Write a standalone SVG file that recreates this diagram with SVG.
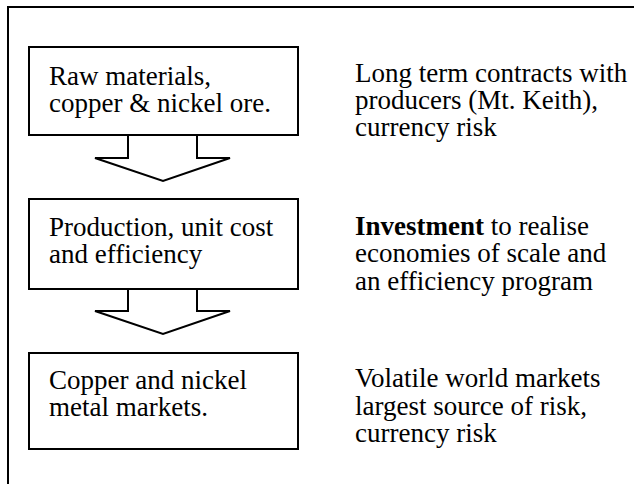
<svg xmlns="http://www.w3.org/2000/svg" width="634" height="484" viewBox="0 0 634 484">
<style>
.frame{fill:#fff;stroke:#000;stroke-width:2}
.box{fill:#fff;stroke:#000;stroke-width:2}
.arrow{fill:#fff;stroke:#000;stroke-width:2;stroke-linejoin:miter}
text{font-size:27px;fill:#000}
.b{font-weight:bold}
</style>
<rect class="frame" x="8" y="7" width="640" height="490"/>
<g id="connectors">
<path class="arrow" d="M128,135 V158 H95 L163,181 L230,158 H197 V135"/>
<path class="arrow" d="M128,289 V311 H95 L163,334 L230,311 H197 V289"/>
</g>
<g id="node-raw">
<rect class="box" x="29" y="47" width="269" height="88"/>
<text style="font-family:'Liberation Serif',serif" x="49" y="85">Raw materials,</text>
<text style="font-family:'Liberation Serif',serif" x="49" y="112">copper &amp; nickel ore.</text>
</g>
<g id="node-production">
<rect class="box" x="29" y="199" width="269" height="90"/>
<text style="font-family:'Liberation Serif',serif" x="49" y="236">Production, unit cost</text>
<text style="font-family:'Liberation Serif',serif" x="49" y="263">and efficiency</text>
</g>
<g id="node-markets">
<rect class="box" x="29" y="353" width="269" height="96"/>
<text style="font-family:'Liberation Serif',serif" x="49" y="389">Copper and nickel</text>
<text style="font-family:'Liberation Serif',serif" x="49" y="416">metal markets.</text>
</g>
<g id="note-raw">
<text style="font-family:'Liberation Serif',serif" x="355" y="82">Long term contracts with</text>
<text style="font-family:'Liberation Serif',serif" x="355" y="109">producers (Mt. Keith),</text>
<text style="font-family:'Liberation Serif',serif" x="355" y="136">currency risk</text>
</g>
<g id="note-production">
<text style="font-family:'Liberation Serif',serif" x="355" y="235"><tspan class="b">Investment</tspan> to realise</text>
<text style="font-family:'Liberation Serif',serif" x="355" y="262">economies of scale and</text>
<text style="font-family:'Liberation Serif',serif" x="355" y="290">an efficiency program</text>
</g>
<g id="note-markets">
<text style="font-family:'Liberation Serif',serif" x="355" y="387">Volatile world markets</text>
<text style="font-family:'Liberation Serif',serif" x="355" y="415">largest source of risk,</text>
<text style="font-family:'Liberation Serif',serif" x="355" y="442">currency risk</text>
</g>
</svg>
